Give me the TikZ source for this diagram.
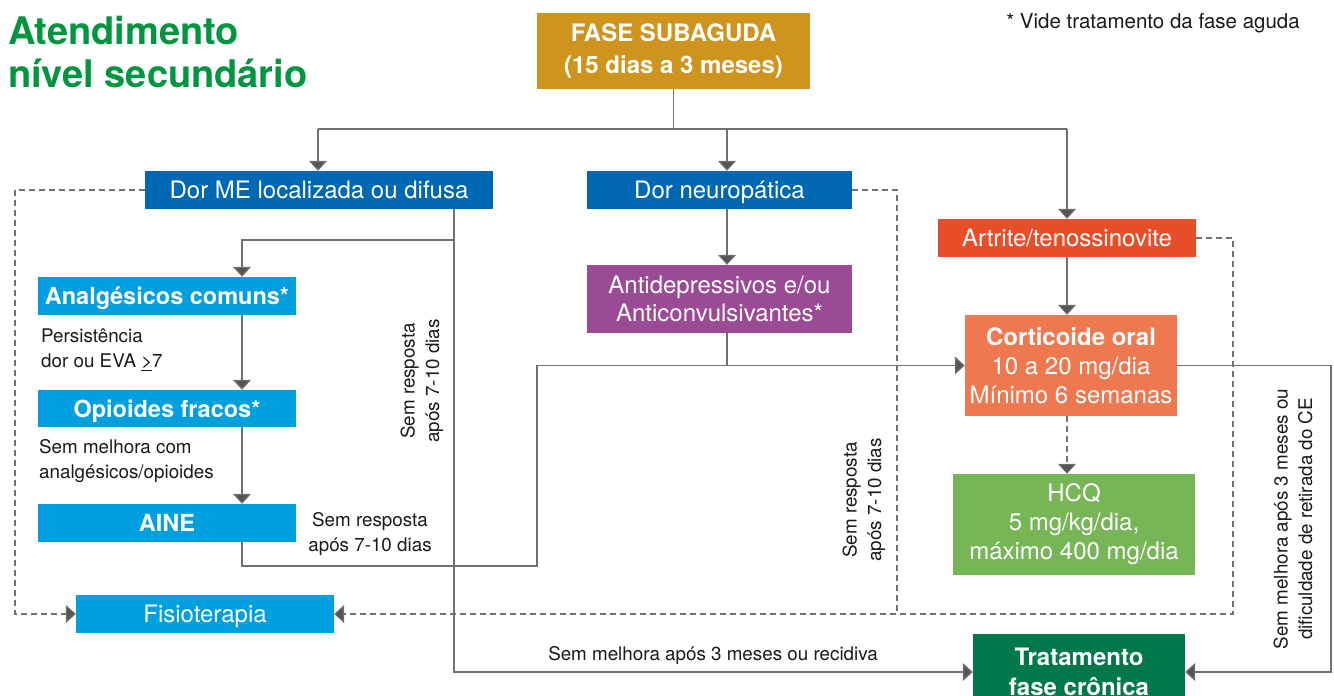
\documentclass[tikz,border=0pt]{standalone}
\usepackage{fontspec}
\setmainfont{TeX Gyre Heros}
\usetikzlibrary{arrows.meta}
\definecolor{titlegreen}{HTML}{00963F}
\definecolor{gold}{HTML}{CF941E}
\definecolor{dblue}{HTML}{0068B2}
\definecolor{lblue}{HTML}{009FE0}
\definecolor{purp}{HTML}{9B4A96}
\definecolor{redor}{HTML}{E84E29}
\definecolor{salmon}{HTML}{EE7850}
\definecolor{lgreen}{HTML}{76B656}
\definecolor{dgreen}{HTML}{00784A}
\definecolor{linegray}{HTML}{707070}
\definecolor{tipgray}{HTML}{555555}
\definecolor{txt}{HTML}{1A1A1A}
\tikzset{
  box/.style={inner sep=0pt, text=white, align=center,
    font=\fontsize{24}{29}\selectfont},
  boldbox/.style={box, font=\bfseries\fontsize{23.5}{29}\selectfont},
  oneline/.style={text height=17pt, text depth=0pt},
  ln/.style={draw=linegray, line width=1.2pt},
  arr/.style={ln, -{Triangle[width=18pt,length=10pt,fill=tipgray]}},
  dln/.style={draw=linegray, line width=1.1pt, dash pattern=on 6pt off 4pt},
  darr/.style={dln, -{Triangle[width=18pt,length=10pt,fill=tipgray]}},
  lbl/.style={inner sep=0pt, text=txt, font=\fontsize{18.8}{24.5}\selectfont},
}
\begin{document}
\begin{tikzpicture}[x=1pt,y=-1pt]
\clip (0,0) rectangle (1334,696);
\fill[white] (0,0) rectangle (1334,696);

% title and note
\node[anchor=north west, inner sep=0pt, text=titlegreen, align=left,
  font=\bfseries\fontsize{38}{43}\selectfont] (title) at (8,16) {Atendimento\\nível secundário};
\node[lbl, font=\fontsize{20.5}{24}\selectfont] (note) at (1153,23) {* Vide tratamento da fase aguda};

% boxes
\node[boldbox, fill=gold, minimum width=273pt, minimum height=76pt,
  font=\bfseries\fontsize{24}{32}\selectfont] (fase) at (673.5,51) {FASE SUBAGUDA\\(15 dias a 3 meses)};
\node[box, oneline, fill=dblue, minimum width=348pt, minimum height=38pt] (dorme) at (319,190) {Dor ME localizada ou difusa};
\node[box, oneline, fill=dblue, minimum width=265pt, minimum height=38pt] (neuro) at (719.5,190) {Dor neuropática};
\node[box, oneline, fill=redor, minimum width=258pt, minimum height=38pt] (artr) at (1067,238) {Artrite/tenossinovite};
\node[boldbox, oneline, fill=lblue, minimum width=258pt, minimum height=38pt] (analg) at (167,296) {Analgésicos comuns*};
\node[boldbox, oneline, fill=lblue, minimum width=258pt, minimum height=37pt] (opio) at (167,408.5) {Opioides fracos*};
\node[boldbox, oneline, fill=lblue, minimum width=258pt, minimum height=38pt] (aine) at (167,523) {AINE};
\node[box, oneline, fill=lblue, minimum width=258pt, minimum height=38pt] (fisio) at (205,614) {Fisioterapia};
\node[box, fill=purp, minimum width=265pt, minimum height=68pt,
  font=\fontsize{24}{28.5}\selectfont] (antid) at (719.5,299) {Antidepressivos e/ou\\Anticonvulsivantes*};
\node[box, fill=salmon, minimum width=212pt, minimum height=101pt] (cort) at (1071,365.5) {\textbf{Corticoide oral}\\10 a 20 mg/dia\\Mínimo 6 semanas};
\node[box, fill=lgreen, minimum width=242pt, minimum height=101pt] (hcq) at (1074,524.5) {HCQ\\5 mg/kg/dia,\\máximo 400 mg/dia};
\node[boldbox, fill=dgreen, minimum width=212pt, minimum height=76pt,
  font=\bfseries\fontsize{24}{30}\selectfont] (trat) at (1079,672) {Tratamento\\fase crônica};

% helper coordinates
\coordinate (bus) at (673.5,129);
\coordinate (xA) at (318,0);
\coordinate (xN) at (727,0);
\coordinate (xR) at (1067,0);
\coordinate (xL) at (242,0);
\coordinate (xD) at (454,0);
\coordinate (xM) at (537,0);
\coordinate (xC) at (1331,0);
\coordinate (xDL) at (15,0);
\coordinate (xNd) at (897,0);
\coordinate (xAd) at (1233,0);
\coordinate (y240) at (0,240);
\coordinate (y566) at (0,566);

% solid connectors
\draw[ln] (fase.south) -- (bus);
\draw[ln] (bus -| xA) -- (bus -| xR);
\draw[arr] (bus -| xA) -- (dorme.north -| xA);
\draw[arr] (bus -| xN) -- (neuro.north -| xN);
\draw[arr] (bus -| xR) -- (artr.north -| xR);
\draw[arr] (dorme.south -| xD) |- (trat.west);
\draw[arr] (y240 -| xD) -| (analg.north -| xL);
\draw[arr] (analg.south -| xL) -- (opio.north -| xL);
\draw[arr] (opio.south -| xL) -- (aine.north -| xL);
\draw[arr] (aine.south -| xL) |- (y566 -| xM) |- (cort.west);
\draw[arr] (neuro.south -| xN) -- (antid.north -| xN);
\draw[ln] (antid.south -| xN) -- (cort.west -| xN);
\draw[arr] (artr.south -| xR) -- (cort.north -| xR);
\draw[arr] (cort.east) -| (trat.east -| xC) -- (trat.east);

% dashed connectors
\draw[darr] (cort.south -| xR) -- (hcq.north -| xR);
\draw[darr] (dorme.west) -| (fisio.west -| xDL) -- (fisio.west);
\draw[darr] (neuro.east) -| (fisio.east -| xNd) -- (fisio.east);
\draw[dln] (artr.east) -| (fisio.east -| xAd) -- (fisio.east -| xNd);

% labels
\node[lbl, anchor=west, align=left] (l1) at (41,350) {Persistência\\dor ou EVA \underline{>}7};
\node[lbl, anchor=west, align=left] (l2) at (39,461) {Sem melhora com\\analgésicos/opioides};
\node[lbl, align=center] (l3) at (370,534) {Sem resposta\\após 7-10 dias};
\node[lbl, align=center, rotate=90] (l4) at (422,381) {Sem resposta\\após 7-10 dias};
\node[lbl, align=center, rotate=90] (l5) at (864,500) {Sem resposta\\após 7-10 dias};
\node[lbl, align=center, rotate=90] (l6) at (1293,519) {Sem melhora após 3 meses ou\\dificuldade de retirada do CE};
\node[lbl] (l7) at (713,656) {Sem melhora após 3 meses ou recidiva};
\end{tikzpicture}
\end{document}
